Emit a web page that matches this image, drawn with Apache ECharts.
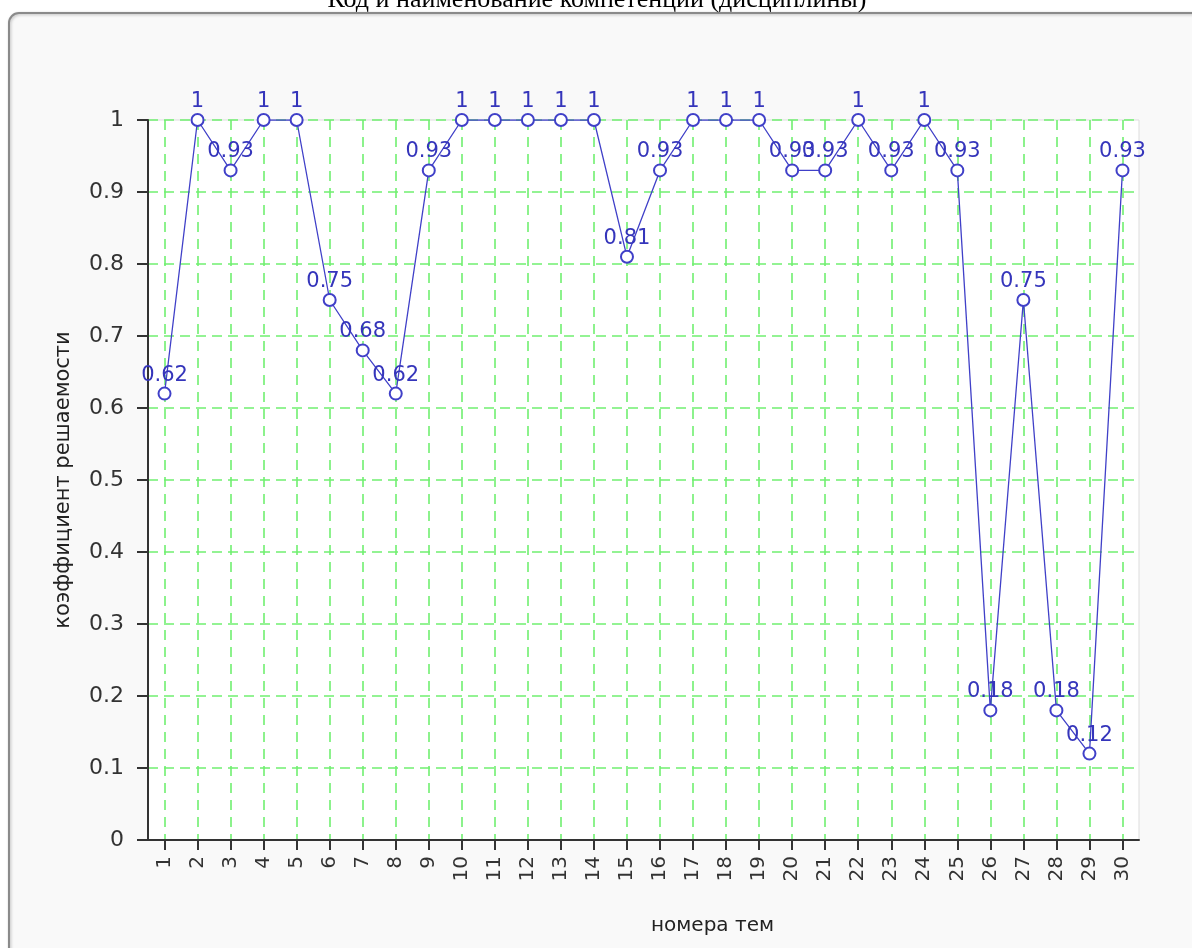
<!DOCTYPE html>
<html>
<head>
<meta charset="utf-8">
<title>Коэффициент решаемости</title>
<script src="https://cdn.jsdelivr.net/npm/echarts@6/dist/echarts.min.js"></script>
<style>
  html, body { margin: 0; padding: 0; background: #ffffff; }
  #chart { width: 1192px; height: 948px; }
</style>
</head>
<body>
<div id="chart"></div>
<script>
// Темы (номера) и коэффициент решаемости по каждой теме
const topics = ['1','2','3','4','5','6','7','8','9','10','11','12','13','14','15',
                '16','17','18','19','20','21','22','23','24','25','26','27','28','29','30'];
const solvability = [0.62, 1, 0.93, 1, 1, 0.75, 0.68, 0.62, 0.93, 1,
                     1, 1, 1, 1, 0.81, 0.93, 1, 1, 1, 0.93,
                     0.93, 1, 0.93, 1, 0.93, 0.18, 0.75, 0.18, 0.12, 0.93];
const chartTitle = 'Код и наименование компетенции (дисциплины)';
const xAxisName = 'номера тем';
const yAxisName = 'коэффициент решаемости';

const chart = echarts.init(document.getElementById('chart'), null, { renderer: 'canvas' });

const gridGreen = '#70ef70';
const axisDark = '#333333';
const lineBlue = '#4040c8';

chart.setOption({
  animation: false,
  backgroundColor: '#ffffff',
  textStyle: { fontFamily: 'DejaVu Sans' },
  graphic: [
    {
      type: 'rect',
      z: -10,
      shape: { x: 9, y: 13, width: 1220, height: 1000, r: 10 },
      style: {
        fill: '#f9f9f9',
        stroke: '#8a8a8a',
        lineWidth: 2,
        shadowColor: 'rgba(0,0,0,0.25)',
        shadowBlur: 3,
        shadowOffsetX: 1,
        shadowOffsetY: 1
      }
    },
    {
      type: 'text',
      z: 10,
      style: {
        x: 597,
        y: 13,
        text: chartTitle,
        align: 'center',
        verticalAlign: 'bottom',
        font: '26px "Liberation Serif"',
        fill: '#000000'
      }
    }
  ],
  grid: {
    left: 148,
    top: 120,
    right: 53,
    bottom: 108,
    containLabel: false,
    show: true,
    backgroundColor: '#ffffff',
    borderColor: '#dddddd',
    borderWidth: 1
  },
  xAxis: {
    type: 'category',
    data: topics,
    boundaryGap: true,
    name: xAxisName,
    nameLocation: 'middle',
    nameGap: 76,
    nameTextStyle: { fontSize: 20, color: '#222222', padding: [0, 0, 0, 138] },
    axisLine: { show: true, lineStyle: { color: axisDark, width: 2 } },
    axisTick: { show: true, alignWithLabel: true, length: 10, lineStyle: { color: axisDark, width: 2 } },
    axisLabel: {
      rotate: 90,
      align: 'right',
      verticalAlign: 'middle',
      margin: 16,
      fontSize: 20,
      color: '#333333',
      interval: 0
    },
    splitLine: {
      show: true,
      alignWithLabel: true,
      interval: 0,
      lineStyle: { color: gridGreen, width: 1.6, type: [10, 7] }
    }
  },
  yAxis: {
    type: 'value',
    min: 0,
    max: 1,
    interval: 0.1,
    name: yAxisName,
    nameLocation: 'middle',
    nameGap: 74,
    nameTextStyle: { fontSize: 21, color: '#222222' },
    axisLine: { show: true, lineStyle: { color: axisDark, width: 2 } },
    axisTick: { show: true, length: 11, lineStyle: { color: axisDark, width: 2 } },
    axisLabel: { margin: 24, fontSize: 22, color: '#333333' },
    splitLine: {
      show: true,
      lineStyle: { color: gridGreen, width: 1.6, type: [10, 6] }
    }
  },
  series: [
    {
      type: 'line',
      data: solvability,
      symbol: 'emptyCircle',
      symbolSize: 12,
      showAllSymbol: true,
      lineStyle: { color: lineBlue, width: 1.3 },
      itemStyle: { color: lineBlue, borderColor: lineBlue, borderWidth: 1.5 },
      label: {
        show: true,
        position: 'top',
        distance: 1,
        fontSize: 21,
        color: '#3535bb'
      },
      labelLayout: { hideOverlap: false },
      z: 5
    }
  ]
});
</script>
</body>
</html>
